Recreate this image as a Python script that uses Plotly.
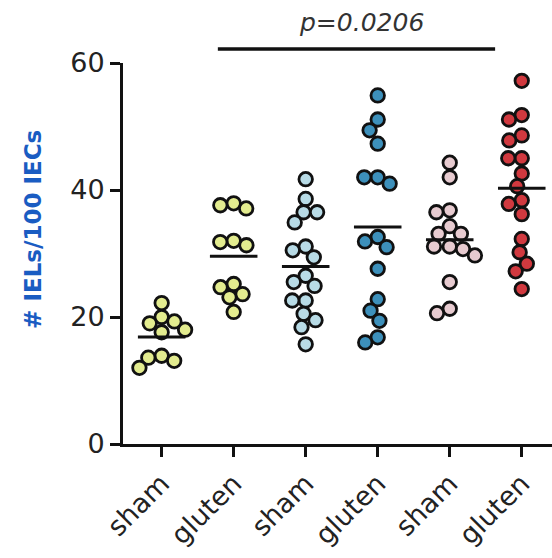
import numpy as np
import plotly.graph_objects as go

# Group labels along the x axis
categories = ["sham", "gluten", "sham", "gluten", "sham", "gluten"]

# IELs per 100 IECs, one list per group
sham_1 = [22.2, 20.0, 19.0, 19.3, 18.0, 17.6, 13.9, 13.6, 13.1, 12.0]
gluten_1 = [37.9, 37.6, 37.1, 32.0, 31.8, 31.3, 25.2, 24.7, 23.6, 23.1, 20.8]
sham_2 = [41.7, 38.6, 36.5, 36.5, 34.9, 31.1, 30.5, 29.4, 26.5, 25.5, 24.9,
          22.6, 22.6, 20.5, 19.5, 18.4, 15.7]
gluten_2 = [54.9, 51.1, 49.4, 47.3, 42.0, 42.0, 41.0, 32.6, 31.9, 31.0, 27.6,
            22.8, 21.0, 19.4, 16.8, 16.0]
sham_3 = [44.3, 42.0, 36.8, 36.5, 34.3, 33.1, 33.1, 31.1, 31.1, 30.7, 29.7,
          25.5, 21.3, 20.6]
gluten_3 = [57.2, 51.8, 51.1, 48.6, 47.8, 45.0, 45.0, 42.6, 40.6, 38.4, 37.8,
            36.2, 32.3, 30.2, 28.4, 27.2, 24.4]

groups = [sham_1, gluten_1, sham_2, gluten_2, sham_3, gluten_3]
fills = ["#e3ec8f", "#e3ec8f", "#b8dbe6", "#3d90bb", "#e7cbd0", "#d1393f"]

p_text = "p=0.0206"

# Canvas and plot-area geometry
W, H = 552, 558
ML, MR, MT, MB = 123, 0, 63, 114
X_RANGE = [-0.537, 5.42]
Y_RANGE = [0, 60]
px_x = (W - ML - MR) / (X_RANGE[1] - X_RANGE[0])
px_y = (H - MT - MB) / (Y_RANGE[1] - Y_RANGE[0])
DIAM = 13.5  # minimum centre spacing of dots, in px


def swarm(values):
    """Beeswarm offsets (in x data units) so dots do not pile up."""
    placed, offs = [], []
    for v in values:
        y = v * px_y
        forbidden = []
        for py, pxx in placed:
            dy = abs(y - py)
            if dy < DIAM:
                dx = (DIAM ** 2 - dy ** 2) ** 0.5
                forbidden.append((pxx - dx, pxx + dx))
        cands = [0.0] + [a for a, _ in forbidden] + [b for _, b in forbidden]
        cands.sort(key=abs)
        x = 0.0
        for c in cands:
            if all(not (a + 1e-6 < c < b - 1e-6) for a, b in forbidden):
                x = c
                break
        placed.append((y, x))
        offs.append(x / px_x)
    return offs


fig = go.Figure()
FONT = "DejaVu Sans, Arial, sans-serif"

for i, (vals, col) in enumerate(zip(groups, fills)):
    offs = swarm(vals)
    fig.add_trace(go.Scatter(
        x=[i + o for o in offs], y=vals, mode="markers",
        marker=dict(size=13.5, color=col, line=dict(color="#111111", width=2.8)),
        cliponaxis=False, showlegend=False, hoverinfo="y"))

for i, vals in enumerate(groups):
    m = float(np.mean(vals))
    fig.add_trace(go.Scatter(
        x=[i - 0.33, i + 0.33], y=[m, m], mode="lines",
        line=dict(color="#111111", width=3),
        cliponaxis=False, showlegend=False, hoverinfo="skip"))

# Significance bar between the two gluten groups
y_bar = 1.037
fig.add_shape(type="line", xref="x", yref="paper", x0=0.78, x1=4.63,
              y0=y_bar, y1=y_bar, line=dict(color="#111111", width=3.5))
fig.add_annotation(xref="x", yref="paper", x=2.77, y=1.105, text=f"<i>{p_text}</i>",
                   showarrow=False, font=dict(family=FONT, size=25, color="#333333"),
                   xanchor="center", yanchor="middle")

# Y axis title
fig.add_annotation(xref="paper", yref="paper", x=0, xshift=-90, y=0.562,
                   text="<b># IELs/100 IECs</b>", textangle=-90, showarrow=False,
                   font=dict(family=FONT, size=23, color="#1a5cc2"),
                   xanchor="center", yanchor="middle")

fig.update_layout(
    width=W, height=H,
    margin=dict(l=ML, r=MR, t=MT, b=MB, pad=0),
    paper_bgcolor="white", plot_bgcolor="white",
    font=dict(family=FONT, color="#222222"),
    xaxis=dict(range=X_RANGE, tickmode="array", tickvals=list(range(len(categories))),
               ticktext=categories, tickangle=-45, showgrid=False, zeroline=False,
               showline=True, linecolor="#111111", linewidth=3,
               ticks="outside", ticklen=10, tickwidth=3, tickcolor="#111111",
               tickfont=dict(size=27, family=FONT, color="#222222")),
    yaxis=dict(range=Y_RANGE, tickvals=[0, 20, 40, 60], showgrid=False, zeroline=False,
               showline=True, linecolor="#111111", linewidth=3,
               ticks="outside", ticklen=10, tickwidth=3, tickcolor="#111111",
               tickfont=dict(size=27, family=FONT, color="#222222")),
)

fig.write_html("out.html")
